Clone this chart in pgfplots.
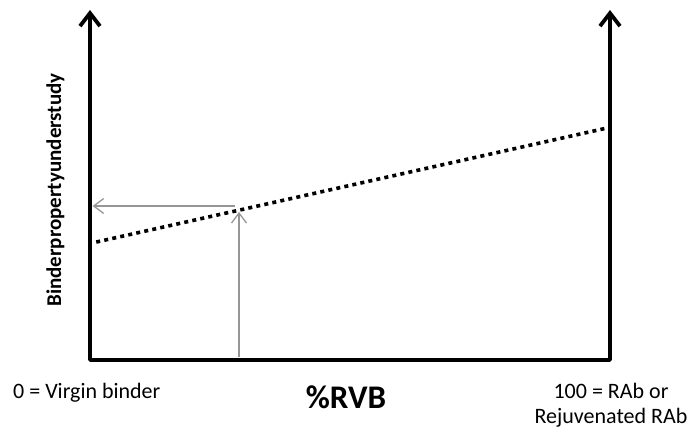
\documentclass[border=0pt]{standalone}
\usepackage{pgfplots}
\pgfplotsset{compat=1.18}
\usepackage{fontspec}
\setmainfont{Carlito}
\usetikzlibrary{arrows.meta}
\definecolor{guide}{RGB}{150,150,150}
\begin{document}
\begin{tikzpicture}
\useasboundingbox (-90bp,-68bp) rectangle (601bp,360bp);
\begin{axis}[
  at={(0,0)}, anchor=south west,
  scale only axis, width=520bp, height=350bp,
  xmin=0, xmax=100, ymin=0, ymax=100,
  axis lines=none, clip=false,
]
% main frame axes
\addplot[line width=3.8bp, line join=round, line cap=round,
  {Straight Barb[length=13bp,width=20bp,line width=3.8bp]}-{Straight Barb[length=13bp,width=20bp,line width=3.8bp]}]
  coordinates {(0,100) (0,0) (100,0) (100,100)};
% dotted line
\addplot[line width=3.6bp, line cap=butt, dash pattern=on 4bp off 4.2bp]
  coordinates {(1.2,33.7) (99.5,66.3)};
% guide arrows
\addplot[guide, line width=1.3bp, -{Straight Barb[length=10bp,width=15bp,line width=1.3bp]}]
  coordinates {(28.65,0.9) (28.65,42.3)};
\addplot[guide, line width=1.3bp, -{Straight Barb[length=10bp,width=15bp,line width=1.3bp]}]
  coordinates {(27.9,44.0) (0.5,44.0)};
\end{axis}
\node[anchor=base west, inner sep=0pt, font=\fontsize{22bp}{25bp}\selectfont] at (-77bp,-38bp) {0 = Virgin binder};
\node[anchor=base, inner sep=0pt, font=\fontsize{33bp}{38bp}\selectfont\bfseries] at (256bp,-48bp) {\%RVB};
\node[anchor=base, inner sep=0pt, font=\fontsize{22bp}{25bp}\selectfont] at (521bp,-38bp) {100 = RAb or};
\node[anchor=base, inner sep=0pt, font=\fontsize{22bp}{25bp}\selectfont] at (521bp,-63bp) {Rejuvenated RAb};
\node[anchor=base, inner sep=0pt, rotate=90, font=\fontsize{21bp}{24bp}\selectfont\bfseries] at (-29bp,170bp) {Binderpropertyunderstudy};
\end{tikzpicture}
\end{document}
